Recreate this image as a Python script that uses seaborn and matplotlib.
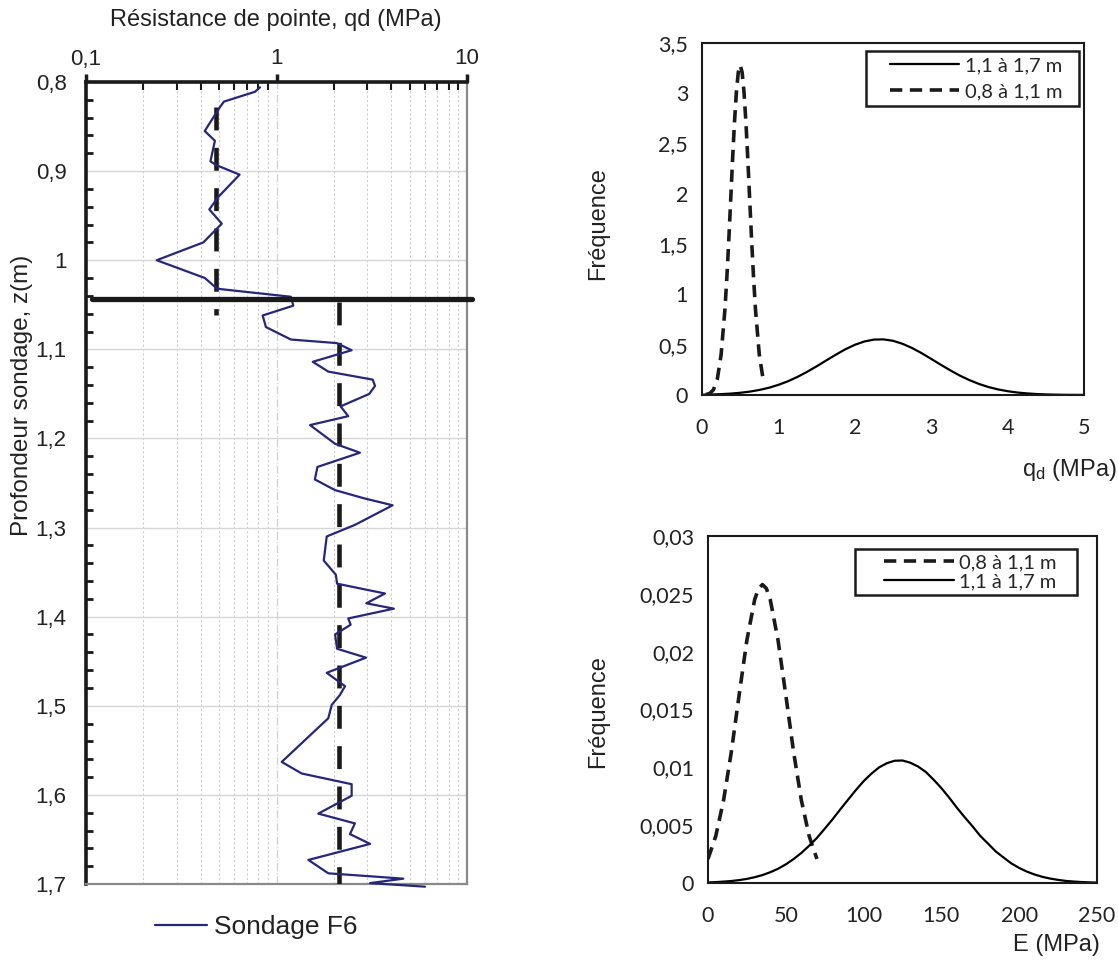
import matplotlib
matplotlib.use("Agg")
import matplotlib.pyplot as plt
from matplotlib.ticker import FixedLocator, FuncFormatter, MultipleLocator, LogLocator, NullFormatter
from matplotlib.legend_handler import HandlerLine2D
import seaborn as sns

# Sondage F6 : profondeur (m) et résistance de pointe qd (MPa)
depth = [0.806, 0.811, 0.822, 0.8295, 0.855, 0.866, 0.889, 0.893, 0.904, 0.929,
         0.943, 0.959, 0.980, 1.000, 1.020, 1.032, 1.041, 1.051, 1.062, 1.075,
         1.089, 1.093, 1.101, 1.114, 1.125, 1.134, 1.141, 1.150, 1.164, 1.175,
         1.185, 1.206, 1.216, 1.232, 1.246, 1.258, 1.267, 1.275, 1.297, 1.310,
         1.337, 1.353, 1.363, 1.374, 1.385, 1.391, 1.402, 1.409, 1.420, 1.436,
         1.446, 1.463, 1.478, 1.488, 1.499, 1.514, 1.563, 1.576, 1.588, 1.601,
         1.621, 1.632, 1.644, 1.655, 1.673, 1.688, 1.694, 1.699, 1.703]
qd = [0.82, 0.77, 0.53, 0.50, 0.42, 0.475, 0.45, 0.48, 0.64, 0.495,
      0.444, 0.516, 0.413, 0.235, 0.421, 0.488, 1.19, 1.225, 0.846, 0.88,
      1.19, 2.07, 2.48, 1.55, 1.87, 3.20, 3.29, 3.07, 2.17, 2.38,
      1.50, 2.03, 2.74, 1.64, 1.59, 2.03, 2.86, 4.07, 2.58, 1.835,
      1.77, 2.05, 2.08, 3.71, 2.96, 4.13, 2.38, 2.45, 2.03, 2.08,
      2.95, 1.835, 2.29, 2.15, 1.95, 1.87, 1.065, 1.356, 2.48, 2.48,
      1.657, 2.58, 2.43, 3.10, 1.47, 1.87, 4.63, 3.10, 6.02]

# limite de couche et qd moyens par couche
layer_z = 1.044
layer_x = [0.107, 10.6]
mean_top_qd = 0.48
mean_top_z = [0.828, 1.062]
mean_bot_qd = 2.14
mean_bot_z = [1.047, 1.70]

# densités de qd
qd_grid = [i * 0.125 for i in range(41)]
dens_qd_deep = [0.0029, 0.0051, 0.0085, 0.0139, 0.022, 0.0336, 0.050, 0.0719, 0.101, 0.1365,
                0.180, 0.230, 0.285, 0.343, 0.400, 0.454, 0.499, 0.532, 0.551, 0.553,
                0.539, 0.509, 0.467, 0.416, 0.359, 0.301, 0.245, 0.193, 0.148, 0.110,
                0.079, 0.0554, 0.038, 0.0248, 0.016, 0.0098, 0.0059, 0.0034, 0.0019, 0.0011,
                0.0006]
qd_grid_top = [0.05, 0.10, 0.15, 0.20, 0.25, 0.30, 0.325, 0.35, 0.375, 0.40, 0.425, 0.45,
               0.475, 0.50, 0.525, 0.55, 0.575, 0.60, 0.625, 0.65, 0.675, 0.70, 0.75, 0.80]
dens_qd_top = [0.004, 0.015, 0.052, 0.156, 0.40, 0.85, 1.165, 1.53, 1.93, 2.34, 2.71, 3.01,
               3.21, 3.28, 3.21, 3.01, 2.71, 2.34, 1.93, 1.53, 1.165, 0.85, 0.40, 0.156]

# densités de E
E_grid = list(range(0, 251, 5))
dens_E_deep = [0.00005, 0.000077, 0.00012, 0.000171, 0.00025, 0.000355, 0.0005, 0.000685,
               0.00093, 0.00123, 0.00161, 0.00207, 0.0026, 0.00322, 0.0039, 0.00469,
               0.0055, 0.00636, 0.0072, 0.00803, 0.0088, 0.00945, 0.0100, 0.01036,
               0.01057, 0.01059, 0.0104, 0.01007, 0.0096, 0.00893, 0.0082, 0.00738,
               0.0065, 0.00568, 0.0049, 0.00407, 0.0034, 0.00272, 0.0022, 0.00169,
               0.0013, 0.00098, 0.00073, 0.00053, 0.00038, 0.00027, 0.00018, 0.000125,
               0.000084, 0.000055, 0.000035]
E_grid_top = [0, 5, 10, 15, 20, 25, 30, 32.5, 35, 37.5, 40, 45, 50, 55, 60, 65, 70]
dens_E_top = [0.00208, 0.00406, 0.00715, 0.01134, 0.01625, 0.0210, 0.0245, 0.02547, 0.0258,
              0.02547, 0.0245, 0.0210, 0.01625, 0.01134, 0.00715, 0.00406, 0.00208]

sns.set_style("white")
plt.rcParams["font.family"] = ["Liberation Sans", "DejaVu Sans"]
plt.rcParams["mathtext.default"] = "regular"

W, H = 1118, 974
fig = plt.figure(figsize=(W / 100, H / 100), dpi=100)


def box(x0, y0, x1, y1):
    return [x0 / W, 1 - y1 / H, (x1 - x0) / W, (y1 - y0) / H]


comma = FuncFormatter(lambda v, p: f"{v:g}".replace(".", ","))


class ShiftedLine(HandlerLine2D):
    # trait de légende qui ne commence qu'après un petit retrait
    def __init__(self, shift, **kw):
        super().__init__(**kw)
        self.shift = shift

    def create_artists(self, legend, orig_handle, xdescent, ydescent, width, height,
                       fontsize, trans):
        arts = super().create_artists(legend, orig_handle, xdescent, ydescent, width,
                                      height, fontsize, trans)
        xd = arts[0].get_xdata()
        yd = arts[0].get_ydata()
        arts[0].set_data([xd[0] + self.shift * fontsize, xd[-1]], [yd[0], yd[-1]])
        return arts


# ---- profil penetrometre ----
ax = fig.add_axes(box(86, 82, 467, 884))
navy = "#26267a"
dark = "#1a1a1a"
sns.lineplot(x=qd, y=depth, sort=False, estimator=None, color=navy, lw=1.6,
             clip_on=False, label="Sondage F6", ax=ax, zorder=4)
sns.lineplot(x=[mean_top_qd] * 2, y=mean_top_z, sort=False, estimator=None, color=dark,
             lw=3.3, linestyle=(0, (5, 3.8)), ax=ax, zorder=3)
sns.lineplot(x=[mean_bot_qd] * 2, y=mean_bot_z, sort=False, estimator=None, color=dark,
             lw=3.3, linestyle=(0, (5, 3.8)), ax=ax, zorder=3)
sns.lineplot(x=layer_x, y=[layer_z] * 2, sort=False, estimator=None, color=dark,
             lw=3.8, clip_on=False, ax=ax, zorder=5)
leg = ax.get_legend()
if leg is not None:
    leg.remove()

ax.set_xscale("log")
ax.set_xlim(0.1, 10)
ax.set_ylim(1.7, 0.8)
ax.xaxis.tick_top()
ax.xaxis.set_major_locator(FixedLocator([0.1, 1, 10]))
ax.xaxis.set_minor_locator(LogLocator(base=10, subs=range(2, 10)))
ax.xaxis.set_minor_formatter(NullFormatter())
ax.xaxis.set_major_formatter(comma)
ax.yaxis.set_major_locator(MultipleLocator(0.1))
ax.yaxis.set_minor_locator(MultipleLocator(0.02))
ax.yaxis.set_major_formatter(comma)
ax.grid(False)
ax.grid(which="major", axis="y", color="#d6d6d6", lw=1.0)
ax.grid(which="minor", axis="x", color="#cccccc", lw=0.8, ls=(0, (2, 2)))
ax.grid(which="major", axis="x", color="#d0d0d0", lw=0.9, ls="-.")
ax.tick_params(axis="y", which="major", direction="out", length=8, width=2.5,
               labelsize=16, pad=6, colors=dark, labelcolor="#222222")
ax.tick_params(axis="y", which="minor", direction="in", length=5, width=2, colors=dark, left=True)
ax.tick_params(axis="x", which="major", direction="out", length=6, width=2.5, top=True,
               bottom=False, labeltop=True, labelbottom=False, labelsize=16, pad=3,
               colors=dark, labelcolor="#222222")
ax.tick_params(axis="x", which="minor", direction="in", length=6, width=1.5, top=True,
               bottom=False, colors=dark)
ax.set_xlabel("")
ax.set_ylabel("")
for s in ["left", "top"]:
    ax.spines[s].set_color(dark)
    ax.spines[s].set_linewidth(2.6)
for s in ["right", "bottom"]:
    ax.spines[s].set_color("#8a8a8a")
    ax.spines[s].set_linewidth(1.6)

fig.text(276 / W, 1 - 20 / H, "Résistance de pointe, qd (MPa)", ha="center", va="center",
         fontsize=17, color="#222222")
fig.text(22 / W, 1 - 395 / H, "Profondeur sondage, z(m)", ha="center", va="center",
         rotation=90, fontsize=17.5, color="#222222")
h = ax.get_lines()[0]
fig.legend([h], ["Sondage F6"], loc="center", bbox_to_anchor=(256 / W, 1 - 927 / H),
           frameon=False, fontsize=19, handlelength=2.0, handletextpad=0.25,
           labelcolor="#222222")


def style_right(a, xmax, xstep, ymax, ystep):
    a.set_xlim(0, xmax)
    a.set_ylim(0, ymax)
    a.xaxis.set_major_locator(MultipleLocator(xstep))
    a.yaxis.set_major_locator(MultipleLocator(ystep))
    a.xaxis.set_major_formatter(comma)
    a.yaxis.set_major_formatter(comma)
    a.tick_params(axis="x", direction="inout", length=11, width=1.3, labelsize=15.5,
                  pad=11, colors="#222222")
    a.tick_params(axis="y", direction="out", length=7, width=1.3, labelsize=15.5,
                  pad=3, colors="#222222")
    for lab in a.get_xticklabels() + a.get_yticklabels():
        lab.set_fontfamily("Lato")
    for s in a.spines.values():
        s.set_color("#1a1a1a")
        s.set_linewidth(1.5)
    a.set_xlabel("")
    a.set_ylabel("")
    a.grid(False)


dash = (0, (3.4, 2.1))
nb = "\u00a0"

# ---- densite qd ----
ax2 = fig.add_axes(box(702, 43, 1084, 395))
sns.lineplot(x=qd_grid, y=dens_qd_deep, sort=False, estimator=None, color="black", lw=1.6,
             label="1,1 à 1,7 m", ax=ax2)
sns.lineplot(x=qd_grid_top, y=dens_qd_top, sort=False, estimator=None, color="#1a1a1a",
             lw=2.6, linestyle=dash, label="0,8 à 1,1 m", ax=ax2)
style_right(ax2, 5, 1, 3.5, 0.5)
hs = ax2.get_lines()
hm = ShiftedLine(0.9)
lg = ax2.legend(hs[:2], ["1,1 à 1,7 m" + nb * 2, "0,8 à 1,1 m" + nb * 2], loc="upper right",
                bbox_to_anchor=(0.987, 0.977), borderaxespad=0, fancybox=False, framealpha=1,
                edgecolor="#1a1a1a", prop={"family": "Lato", "size": 14.5}, handlelength=4.33,
                handletextpad=0.3, labelspacing=0.45, borderpad=0.3,
                handler_map={hs[0]: hm, hs[1]: hm})
lg.get_frame().set_linewidth(1.8)
fig.text(598 / W, 1 - 224 / H, "Fréquence", rotation=90, ha="center", va="center",
         fontsize=17, color="#222222")
fig.text(1117 / W, 1 - 470 / H, "q$_d$ (MPa)", ha="right", va="center", fontsize=17,
         color="#222222")

# ---- densite E ----
ax3 = fig.add_axes(box(708, 536, 1097, 883))
sns.lineplot(x=E_grid_top, y=dens_E_top, sort=False, estimator=None, color="#1a1a1a",
             lw=2.6, linestyle=dash, label="0,8 à 1,1 m", ax=ax3)
sns.lineplot(x=E_grid, y=dens_E_deep, sort=False, estimator=None, color="black", lw=1.6,
             label="1,1 à 1,7 m", ax=ax3)
style_right(ax3, 250, 50, 0.03, 0.005)
hs = ax3.get_lines()
hm = ShiftedLine(1.2)
lg = ax3.legend(hs[:2], ["0,8 à 1,1 m" + nb * 3, "1,1 à 1,7 m" + nb * 3], loc="upper right",
                bbox_to_anchor=(0.9486, 0.9625), borderaxespad=0, fancybox=False, framealpha=1,
                edgecolor="#1a1a1a", prop={"family": "Lato", "size": 14.5}, handlelength=4.68,
                handletextpad=0.25, labelspacing=0.1, borderpad=0.25,
                handler_map={hs[0]: hm, hs[1]: hm})
lg.get_frame().set_linewidth(1.8)
fig.text(598 / W, 1 - 712 / H, "Fréquence", rotation=90, ha="center", va="center",
         fontsize=17, color="#222222")
fig.text(1100 / W, 1 - 945 / H, "E (MPa)", ha="right", va="center", fontsize=17,
         color="#222222")

fig.savefig("out.png", dpi=100)
